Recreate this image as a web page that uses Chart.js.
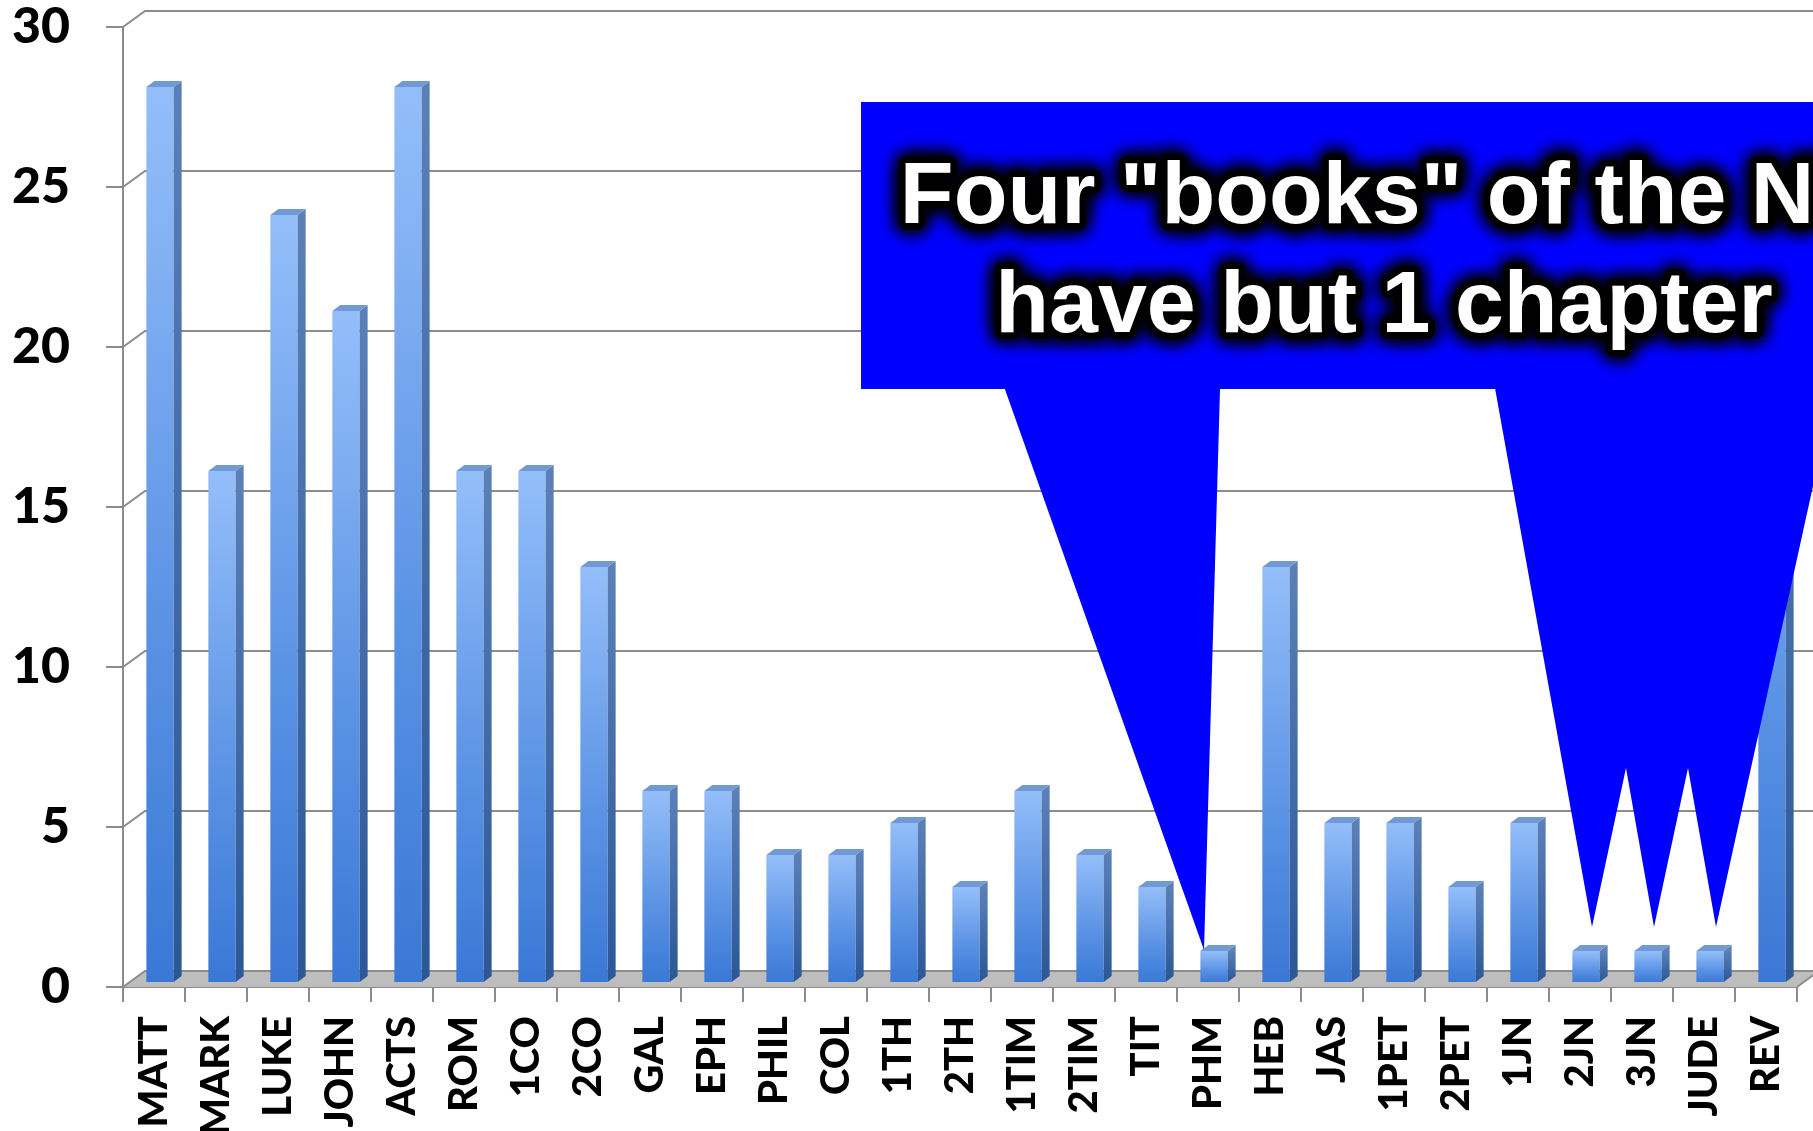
<!DOCTYPE html>
<html><head><meta charset="utf-8">
<script src="https://cdn.jsdelivr.net/npm/chart.js@4"></script>
<style>html,body{margin:0;padding:0;background:#fff;overflow:hidden}</style>
</head><body>
<canvas id="c" width="1813" height="1131"></canvas>
<script>
const books = ['MATT','MARK','LUKE','JOHN','ACTS','ROM','1CO','2CO','GAL','EPH','PHIL','COL','1TH','2TH','1TIM','2TIM','TIT','PHM','HEB','JAS','1PET','2PET','1JN','2JN','3JN','JUDE','REV'];
const chapters = [28,16,24,21,28,16,16,13,6,6,4,4,5,3,6,4,3,1,13,5,5,3,5,1,1,1,22];
const yMin = 0, yMax = 30, yStep = 5;
const calloutLines = ['Four "books" of the NT', 'have but 1 chapter'];

const GRID = '#8c8c8c';
const WALL_DX = 22, WALL_DY = -16;   // back wall offset
const BAR_DX = 6, BAR_DY = -4;       // bar plane offset
const DEPTH_X = 8, DEPTH_Y = -6;     // bar depth

function barGradient(c){
  const chart = c.chart;
  const ys = chart.scales.y;
  if (!ys || c.raw === undefined) return '#6fa0e8';
  const top = ys.getPixelForValue(c.raw), base = ys.getPixelForValue(0);
  if (!isFinite(top) || !isFinite(base) || top === base) return '#6fa0e8';
  const g = chart.ctx.createLinearGradient(0, top, 0, base);
  g.addColorStop(0, '#94befa');
  g.addColorStop(0.6, '#5a92e4');
  g.addColorStop(1, '#3a78d6');
  return g;
}

const deco = {
  id: 'deco',
  beforeDatasetsDraw(chart){
    const ctx = chart.ctx, ys = chart.scales.y, xs = chart.scales.x;
    const left = xs.left, right = xs.right;
    ctx.save();
    const y0 = ys.getPixelForValue(0);
    ctx.fillStyle = '#bdbdbd';
    ctx.beginPath();
    ctx.moveTo(left, y0);
    ctx.lineTo(left + WALL_DX, y0 + WALL_DY);
    ctx.lineTo(chart.width + 5, y0 + WALL_DY);
    ctx.lineTo(right + WALL_DX, y0 + WALL_DY);
    ctx.lineTo(right, y0);
    ctx.closePath();
    ctx.fill();
    ctx.strokeStyle = GRID; ctx.lineWidth = 2;
    ctx.beginPath();
    ctx.moveTo(right, y0); ctx.lineTo(right + WALL_DX, y0 + WALL_DY);
    ctx.stroke();
    ys.ticks.forEach(t => {
      const y = ys.getPixelForValue(t.value);
      ctx.beginPath();
      ctx.moveTo(left, y);
      ctx.lineTo(left + WALL_DX, y + WALL_DY);
      ctx.lineTo(chart.width + 5, y + WALL_DY);
      ctx.stroke();
    });
    ctx.restore();
    ctx.save();
    ctx.translate(BAR_DX, BAR_DY);
  },
  afterDatasetsDraw(chart){
    const ctx = chart.ctx;
    const meta = chart.getDatasetMeta(0);
    meta.data.forEach(el => {
      const p = el.getProps(['x','y','base','width'], true);
      const l = p.x - p.width/2, r = p.x + p.width/2;
      const gs = ctx.createLinearGradient(0, p.y, 0, p.base);
      gs.addColorStop(0, '#5b80b8');
      gs.addColorStop(1, '#2b5797');
      ctx.fillStyle = gs;
      ctx.beginPath();
      ctx.moveTo(r, p.y);
      ctx.lineTo(r + DEPTH_X, p.y + DEPTH_Y);
      ctx.lineTo(r + DEPTH_X, p.base + DEPTH_Y);
      ctx.lineTo(r, p.base);
      ctx.closePath();
      ctx.fill();
      ctx.fillStyle = '#7199d3';
      ctx.beginPath();
      ctx.moveTo(l, p.y);
      ctx.lineTo(l + DEPTH_X, p.y + DEPTH_Y);
      ctx.lineTo(r + DEPTH_X, p.y + DEPTH_Y);
      ctx.lineTo(r, p.y);
      ctx.closePath();
      ctx.fill();
    });
    ctx.restore();
  },
  afterDraw(chart){
    const ctx = chart.ctx, xs = chart.scales.x, ys = chart.scales.y;
    const ones = chapters.map((v,i)=> v === 1 ? i : -1).filter(i => i >= 0);
    const y1 = ys.getPixelForValue(1);
    const first = ones[0];
    const rest = ones.slice(1);
    const boxL = 861, boxT = 102, boxB = 389, notchY = 768;
    const tipA = {x: xs.getPixelForValue(first) - 4, y: y1 - 5};
    const tips = rest.map(i => ({x: xs.getPixelForValue(i) + 12, y: y1 - 28}));
    ctx.save();
    ctx.fillStyle = '#0000ff';
    ctx.beginPath();
    ctx.moveTo(boxL, boxT);
    ctx.lineTo(chart.width + 100, boxT);
    ctx.lineTo(chart.width + 100, boxB);
    const last = tips[tips.length-1];
    ctx.lineTo(last.x + 0.22*(last.y - boxB), boxB);
    for (let k = tips.length - 1; k >= 0; k--) {
      ctx.lineTo(tips[k].x, tips[k].y);
      if (k > 0) ctx.lineTo((tips[k].x + tips[k-1].x)/2 + 3, notchY);
    }
    ctx.lineTo(tips[0].x - 0.18*(tips[0].y - boxB), boxB);
    ctx.lineTo(tipA.x + 16, boxB);
    ctx.lineTo(tipA.x, tipA.y);
    ctx.lineTo(tipA.x - 0.355*(tipA.y - boxB), boxB);
    ctx.lineTo(boxL, boxB);
    ctx.closePath();
    ctx.fill();

    ctx.font = 'bold 88px "Liberation Sans", Arial, sans-serif';
    ctx.textAlign = 'center';
    ctx.textBaseline = 'alphabetic';
    const cx = 1384, bases = [223, 332];
    ctx.lineJoin = 'round';
    ctx.strokeStyle = '#000';
    ctx.shadowColor = '#000';
    calloutLines.forEach((t, i) => {
      ctx.shadowBlur = 18;
      ctx.lineWidth = 13;
      ctx.strokeText(t, cx, bases[i]);
      ctx.strokeText(t, cx, bases[i]);
      ctx.strokeText(t, cx, bases[i]);
    });
    ctx.shadowBlur = 0;
    ctx.fillStyle = '#fff';
    calloutLines.forEach((t, i) => ctx.fillText(t, cx, bases[i]));
    ctx.restore();
  }
};

new Chart(document.getElementById('c'), {
  type: 'bar',
  data: {
    labels: books,
    datasets: [{
      data: chapters,
      backgroundColor: barGradient,
      borderWidth: 0,
      barPercentage: 0.44,
      categoryPercentage: 1
    }]
  },
  options: {
    responsive: false,
    devicePixelRatio: 1,
    animation: false,
    events: [],
    layout: { padding: { top: 27, right: 16, bottom: 0, left: 0 } },
    plugins: { legend: { display: false }, tooltip: { enabled: false }, title: { display: false } },
    scales: {
      x: {
        offset: true,
        grid: { offset: true, drawOnChartArea: false, drawTicks: true, tickLength: 15, color: GRID, lineWidth: 2 },
        border: { display: true, color: GRID, width: 2 },
        ticks: {
          minRotation: 90, maxRotation: 90, autoSkip: false, padding: 14,
          color: '#000',
          font: { family: 'Lato, "Open Sans", sans-serif', weight: '900', size: 40 }
        },
        afterFit(s){ s.height = 144; s.paddingLeft = 0; s.paddingRight = 0; s.paddingTop = 0; s.paddingBottom = 0; }
      },
      y: {
        min: yMin, max: yMax,
        grid: { drawOnChartArea: false, drawTicks: true, tickLength: 17, color: GRID, lineWidth: 2 },
        border: { display: true, color: GRID, width: 2 },
        ticks: {
          stepSize: yStep, padding: 36, color: '#000',
          font: { family: 'Lato, "Open Sans", sans-serif', weight: '900', size: 50 }
        },
        afterFit(s){ s.width = 123; s.paddingLeft = 0; s.paddingRight = 0; s.paddingTop = 0; s.paddingBottom = 0; }
      }
    }
  },
  plugins: [deco]
});
</script>
</body></html>
